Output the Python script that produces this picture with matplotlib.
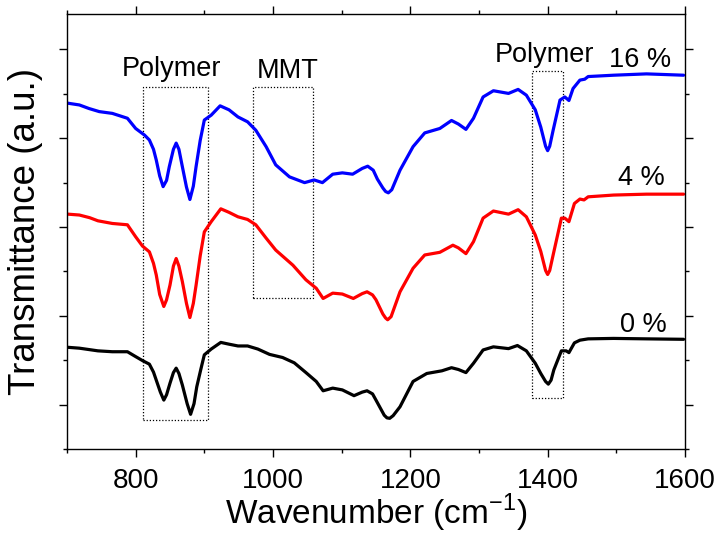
import numpy as np
import matplotlib.pyplot as plt
from matplotlib.patches import Rectangle
from matplotlib.ticker import MultipleLocator, NullFormatter

plt.rcParams['font.family'] = ['Liberation Sans', 'DejaVu Sans']

# FTIR spectra (wavenumber in cm-1, transmittance in a.u.)
wn_16 = [701, 718, 732, 747, 766, 788, 800, 813, 820, 826, 830, 835, 840, 845,
         849, 855, 859, 863, 868, 874, 879, 884, 888, 894, 900, 910, 923, 936,
         949, 963, 975, 990, 1004, 1024, 1046, 1060, 1072, 1087, 1101, 1116,
         1130, 1138, 1146, 1152, 1160, 1164, 1168, 1173, 1185, 1204, 1221,
         1243, 1260, 1270, 1281, 1292, 1306, 1321, 1343, 1357, 1369, 1382,
         1390, 1397, 1400, 1403, 1408, 1418, 1425, 1431, 1437, 1447, 1454,
         1459, 1496, 1544, 1598]
t_16 = [7.79, 7.75, 7.67, 7.60, 7.56, 7.45, 7.22, 7.07, 6.96, 6.75, 6.51, 6.15,
        5.91, 6.05, 6.36, 6.75, 6.89, 6.75, 6.36, 5.90, 5.62, 5.92, 6.36, 6.95,
        7.41, 7.52, 7.73, 7.64, 7.48, 7.37, 7.18, 6.81, 6.40, 6.13, 6.00, 6.06,
        6.00, 6.19, 6.22, 6.19, 6.32, 6.37, 6.28, 6.08, 5.88, 5.80, 5.77, 5.84,
        6.28, 6.81, 7.12, 7.22, 7.40, 7.32, 7.20, 7.45, 7.93, 8.07, 8.01, 8.10,
        7.97, 7.64, 7.25, 6.82, 6.72, 6.82, 7.18, 7.86, 7.93, 7.85, 8.12, 8.31,
        8.33, 8.39, 8.42, 8.45, 8.42]

wn_4 = [701, 718, 733, 745, 766, 788, 800, 810, 820, 826, 830, 835, 841, 845,
        850, 855, 859, 863, 868, 874, 879, 884, 888, 894, 900, 910, 924, 936,
        949, 963, 975, 990, 1004, 1029, 1048, 1063, 1073, 1087, 1101, 1117,
        1130, 1137, 1145, 1150, 1160, 1164, 1167, 1172, 1185, 1204, 1221,
        1243, 1262, 1270, 1281, 1292, 1306, 1321, 1343, 1357, 1369, 1382,
        1390, 1397, 1400, 1403, 1408, 1420, 1425, 1431, 1439, 1447, 1453,
        1459, 1496, 1544, 1598]
t_4 = [5.29, 5.27, 5.21, 5.14, 5.08, 5.05, 4.78, 4.57, 4.44, 4.18, 3.92, 3.48,
       3.21, 3.36, 3.69, 4.12, 4.29, 4.12, 3.77, 3.28, 2.96, 3.28, 3.69, 4.35,
       4.89, 5.12, 5.41, 5.33, 5.23, 5.17, 5.05, 4.75, 4.48, 4.14, 3.81, 3.62,
       3.39, 3.51, 3.49, 3.39, 3.50, 3.54, 3.47, 3.36, 3.04, 2.95, 2.91, 2.98,
       3.54, 4.07, 4.37, 4.43, 4.59, 4.53, 4.40, 4.67, 5.20, 5.36, 5.29, 5.39,
       5.23, 4.82, 4.45, 4.02, 3.93, 4.02, 4.37, 5.20, 5.20, 5.12, 5.53, 5.63,
       5.61, 5.68, 5.72, 5.74, 5.74]

wn_0 = [701, 718, 745, 766, 788, 800, 810, 820, 826, 830, 836, 841, 845, 850,
        855, 859, 863, 868, 875, 880, 885, 889, 895, 900, 910, 924, 936, 949,
        963, 978, 995, 1014, 1031, 1048, 1063, 1073, 1087, 1101, 1118, 1130,
        1137, 1145, 1150, 1162, 1166, 1170, 1175, 1185, 1204, 1224, 1246,
        1260, 1270, 1281, 1292, 1306, 1321, 1343, 1356, 1369, 1382, 1390,
        1397, 1401, 1405, 1409, 1420, 1427, 1431, 1439, 1447, 1459, 1496,
        1544, 1598]
t_0 = [2.29, 2.27, 2.21, 2.19, 2.19, 2.08, 1.99, 1.91, 1.73, 1.55, 1.28, 1.10,
       1.22, 1.48, 1.72, 1.82, 1.70, 1.44, 1.02, 0.78, 1.02, 1.40, 1.80, 2.12,
       2.25, 2.40, 2.36, 2.32, 2.32, 2.25, 2.13, 2.06, 1.94, 1.72, 1.52, 1.31,
       1.37, 1.33, 1.20, 1.28, 1.31, 1.24, 1.10, 0.76, 0.70, 0.69, 0.75, 0.95,
       1.52, 1.70, 1.76, 1.83, 1.79, 1.72, 1.93, 2.23, 2.30, 2.26, 2.33, 2.21,
       1.93, 1.70, 1.52, 1.46, 1.55, 1.78, 2.21, 2.21, 2.17, 2.39, 2.45, 2.48,
       2.49, 2.48, 2.47]

# highlighted regions: (x0, x1, y0, y1, label, label x, label y)
boxes = [(810, 905, 0.65, 8.16, 'Polymer', 852, 8.40),
         (971, 1058, 3.41, 8.16, 'MMT', 1021, 8.36),
         (1377, 1422, 1.14, 8.52, 'Polymer', 1395, 8.72)]
curve_labels = [('16 %', 1535, 8.61), ('4 %', 1536, 5.95), ('0 %', 1539, 2.64)]

fig = plt.figure(figsize=(7.18, 5.37), dpi=100)
ax = fig.add_axes([0.0933, 0.164, 0.8607, 0.810])

for wn, t, c in [(wn_16, t_16, '#0000ff'), (wn_4, t_4, '#ff0000'),
                 (wn_0, t_0, 'black')]:
    ax.plot(wn, t, color=c, lw=2.3, solid_joinstyle='round',
            solid_capstyle='round')

for x0, x1, y0, y1, name, tx, ty in boxes:
    ax.add_patch(Rectangle((x0, y0), x1 - x0, y1 - y0, fill=False,
                           ec='black', lw=0.9, ls=(0, (1, 1.5))))
    ax.text(tx, ty, name, ha='center', va='baseline', fontsize=19.5)

for name, tx, ty in curve_labels:
    ax.text(tx, ty, name, ha='center', va='baseline', fontsize=19.5)

ax.set_xlim(700, 1600)
ax.set_ylim(0, 9.8)
ax.xaxis.set_major_locator(MultipleLocator(200))
ax.xaxis.set_minor_locator(MultipleLocator(100))
ax.yaxis.set_major_locator(MultipleLocator(2, offset=1))
ax.yaxis.set_minor_locator(MultipleLocator(1))
ax.yaxis.set_major_formatter(NullFormatter())

ax.tick_params(which='both', direction='out', top=True, right=True,
               width=1.0, labelsize=20, pad=8)
ax.tick_params(which='major', length=5.5)
ax.tick_params(which='minor', length=3)
for s in ax.spines.values():
    s.set_linewidth(1.0)

ax.set_xlabel('Wavenumber (cm$^{\\mathregular{-1}}$)', fontsize=24, labelpad=-1)
ax.set_ylabel('Transmittance (a.u.)', fontsize=26.5, labelpad=4)

fig.savefig('out.png', dpi=100)
